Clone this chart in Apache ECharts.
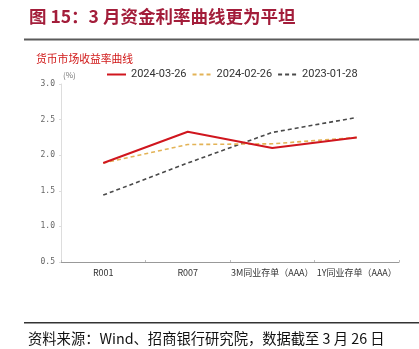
<!DOCTYPE html>
<html>
<head>
<meta charset="utf-8">
<script src="https://cdn.jsdelivr.net/npm/echarts@6/dist/echarts.min.js"></script>
<style>
  html, body { margin: 0; padding: 0; background: #fff; }
  #chart { width: 419px; height: 349px; }
</style>
</head>
<body>
<div id="chart"></div>
<script>
// Money-market yield curve on three dates
const categories = ['R001', 'R007', '3M同业存单（AAA）', '1Y同业存单（AAA）'];
const seriesNames = ['2024-03-26', '2024-02-26', '2023-01-28'];
const curve20240326 = [1.89, 2.33, 2.10, 2.25];
const curve20240226 = [1.89, 2.15, 2.16, 2.25];
const curve20230128 = [1.44, 1.89, 2.32, 2.53];
const yTicks = { min: 0.5, max: 3.0, interval: 0.5 };

const titleText = '图 15：3 月资金利率曲线更为平坦';
const subtitleText = '货币市场收益率曲线';
const sourceText = '资料来源：Wind、招商银行研究院，数据截至 3 月 26 日';

const cjk = '"Noto Sans CJK SC", "Noto Sans", sans-serif';

const chart = echarts.init(document.getElementById('chart'), null, { renderer: 'canvas' });

chart.setOption({
  animation: false,
  backgroundColor: '#fff',
  textStyle: { fontFamily: cjk },
  graphic: [
    {
      type: 'text', left: 29, top: 8,
      style: { text: titleText, fill: '#a31d3a', font: 'bold 17.5px ' + cjk }
    },
    {
      type: 'rect', shape: { x: 24, y: 38.5, width: 395, height: 2 },
      style: { fill: '#5a5a5a' }
    },
    {
      type: 'text', left: 36, top: 54,
      style: { text: subtitleText, fill: '#d11a1a', font: '10.8px ' + cjk }
    },
    {
      type: 'rect', shape: { x: 24, y: 322, width: 395, height: 1.5 },
      style: { fill: '#333' }
    },
    {
      type: 'text', left: 28, top: 331,
      style: { text: sourceText, fill: '#111', font: '14.3px ' + cjk }
    }
  ],
  legend: {
    top: 64, left: 101,
    itemWidth: 19, itemHeight: 10, itemGap: 5,
    itemStyle: { opacity: 0 },
    textStyle: { fontSize: 11, color: '#333', fontFamily: 'Roboto, "Noto Sans", sans-serif' },
    data: seriesNames
  },
  grid: { left: 61, right: 20, top: 84, bottom: 87, containLabel: false },
  xAxis: {
    type: 'category',
    data: categories,
    boundaryGap: true,
    axisLine: { lineStyle: { color: '#999', width: 1 } },
    axisTick: { show: true, inside: true, length: 2, lineStyle: { color: '#bbb' } },
    axisLabel: { fontSize: 9, color: '#333', margin: 6, fontFamily: cjk, interval: 0 }
  },
  yAxis: {
    type: 'value',
    min: yTicks.min, max: yTicks.max, interval: yTicks.interval,
    name: '(%)',
    nameLocation: 'end',
    nameGap: 5,
    nameTextStyle: { fontSize: 8, color: '#777', align: 'left', padding: [0, 0, 0, 2] },
    axisLine: { show: true, lineStyle: { color: '#ddd' } },
    axisTick: { show: true, length: 2, lineStyle: { color: '#ddd' } },
    splitLine: { show: false },
    axisLabel: {
      fontSize: 8, color: '#666', margin: 6,
      fontFamily: '"DejaVu Sans Mono", monospace',
      formatter: v => v.toFixed(1)
    }
  },
  series: [
    {
      name: seriesNames[0], type: 'line', data: curve20240326,
      symbol: 'none', z: 3,
      lineStyle: { color: '#d0161e', width: 2 },
      itemStyle: { color: '#d0161e' }
    },
    {
      name: seriesNames[1], type: 'line', data: curve20240226,
      symbol: 'none', z: 2,
      lineStyle: { color: '#e3b356', width: 1.6, type: [4, 3] },
      itemStyle: { color: '#e3b356' }
    },
    {
      name: seriesNames[2], type: 'line', data: curve20230128,
      symbol: 'none', z: 1,
      lineStyle: { color: '#4a4a4a', width: 1.6, type: [4, 3] },
      itemStyle: { color: '#4a4a4a' }
    }
  ]
});
</script>
</body>
</html>
